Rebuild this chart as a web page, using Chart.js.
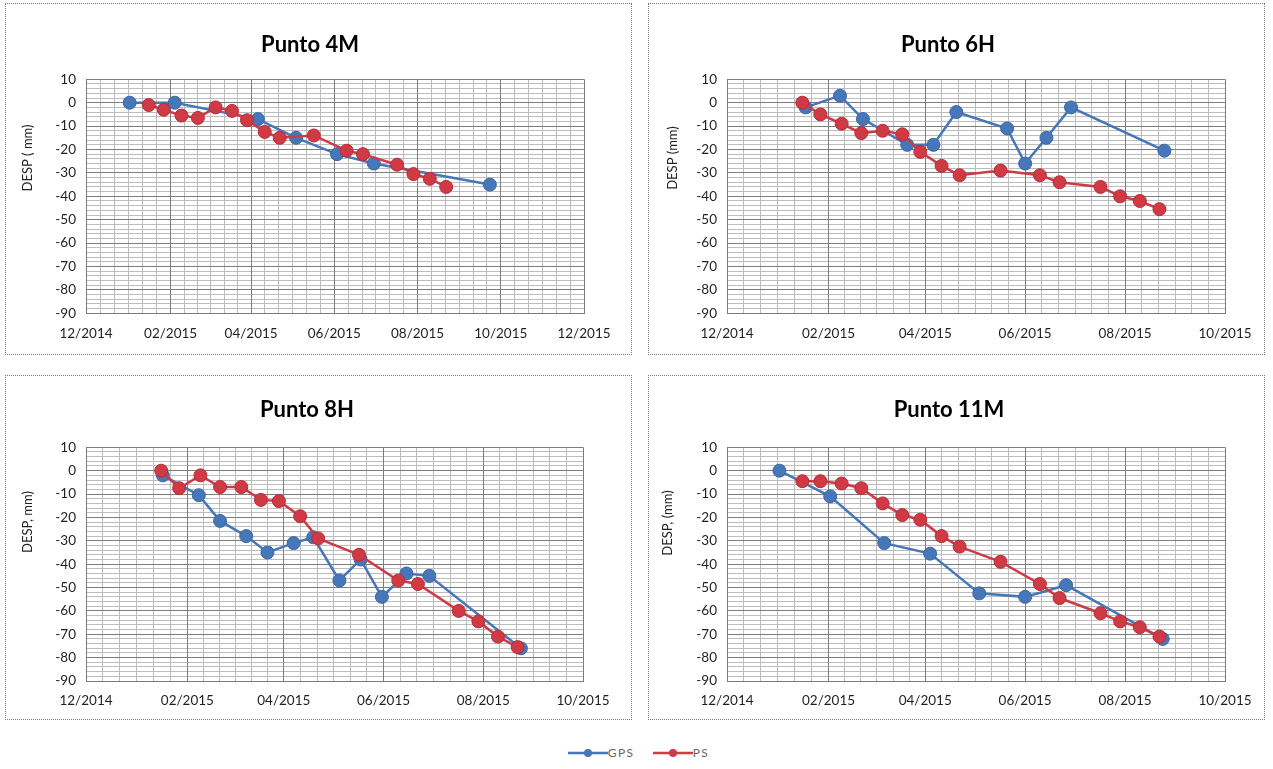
<!DOCTYPE html>
<html>
<head>
<meta charset="utf-8">
<script src="https://cdn.jsdelivr.net/npm/chart.js@4.4.1/dist/chart.umd.min.js"></script>
<style>
  body { margin: 0; background: #fff; width: 1273px; height: 769px; position: relative; overflow: hidden; font-family: Lato, "Open Sans", sans-serif; }
  canvas { position: absolute; }
  .marco { position: absolute; border: 1px dotted #7a7a7a; box-sizing: border-box; pointer-events: none; }
  #leyenda { position: absolute; left: 0; top: 745px; width: 1273px; display: flex; justify-content: center; padding-left: 2px; }
  #leyenda span { display: inline-flex; align-items: center; font-size: 12px; letter-spacing: 1.5px; color: #666; margin: 0 9px; }
</style>
</head>
<body>
<div id="leyenda"></div>
<script>
// Etiquetas del eje X (mes/año)
const ticksX4M = ['12/2014', '02/2015', '04/2015', '06/2015', '08/2015', '10/2015', '12/2015'];
const ticksX = ['12/2014', '02/2015', '04/2015', '06/2015', '08/2015', '10/2015'];

// Fechas de las imágenes PS (comunes a los 4 puntos)
const fechasPS = ['2015-01-16', '2015-01-27', '2015-02-09', '2015-02-21', '2015-03-06', '2015-03-18',
  '2015-03-29', '2015-04-11', '2015-04-22', '2015-05-17', '2015-06-10', '2015-06-22',
  '2015-07-17', '2015-07-29', '2015-08-10', '2015-08-22'];

// Punto 4M
const fechasGPS4M = ['2015-01-02', '2015-02-04', '2015-04-06', '2015-05-04', '2015-06-03', '2015-06-30', '2015-09-23'];
const gps4M = [0, 0, -7, -15, -22, -26, -35];
const ps4M = [-1, -3, -5.5, -6.5, -2, -3.5, -7.5, -12.5, -15, -14, -20.5, -22, -26.5, -30.5, -32.5, -36];

// Punto 6H
const fechasGPS6H = ['2015-01-18', '2015-02-08', '2015-02-22', '2015-03-21', '2015-04-06', '2015-04-20',
  '2015-05-21', '2015-06-01', '2015-06-14', '2015-06-29', '2015-08-25'];
const gps6H = [-2, 3, -7, -18, -18, -4, -11, -26, -15, -2, -20.5];
const ps6H = [0, -5, -9, -13, -12, -13.5, -21, -27, -31, -29, -31, -34, -36, -40, -42, -45.5];

// Punto 8H
const fechasGPS8H = ['2015-01-17', '2015-02-08', '2015-02-21', '2015-03-09', '2015-03-22', '2015-04-07',
  '2015-04-19', '2015-05-05', '2015-05-18', '2015-05-31', '2015-06-15', '2015-06-29', '2015-08-24'];
const gps8H = [-2, -10.5, -21.5, -28, -35, -31, -28.5, -47, -38, -54, -44, -45, -76];
const ps8H = [0, -7.5, -2, -7, -7, -12.5, -13, -19.5, -29, -36, -47, -48.5, -60, -64.5, -71, -75.5];

// Punto 11M
const fechasGPS11M = ['2015-01-02', '2015-02-02', '2015-03-07', '2015-04-04', '2015-05-04', '2015-06-01', '2015-06-26', '2015-08-24'];
const gps11M = [0, -11, -31, -35.5, -52.5, -54, -49, -72];
const ps11M = [-4.5, -4.5, -5.5, -7.5, -14, -19, -21, -28, -32.5, -39, -48.5, -54.5, -61, -64.5, -67, -71];

const series = ['GPS', 'PS'];
const colores = ['#4677b8', '#cf3a44'];

const paneles = [
  { id: 'g4M', titulo: 'Punto 4M', ejeY: 'DESP ( mm)', ticks: ticksX4M, fechasGPS: fechasGPS4M, gps: gps4M, ps: ps4M,
    caja: [5, 3, 627, 352], margen: { izq: 81, arr: 76.3, der: 48, aba: 41.7 }, posTitulo: [305, 42], posEje: [23, 155] },
  { id: 'g6H', titulo: 'Punto 6H', ejeY: 'DESP (mm)', ticks: ticksX, fechasGPS: fechasGPS6H, gps: gps6H, ps: ps6H,
    caja: [648, 3, 617, 352], margen: { izq: 79, arr: 76.3, der: 40, aba: 41.7 }, posTitulo: [300, 42], posEje: [25, 155] },
  { id: 'g8H', titulo: 'Punto 8H', ejeY: 'DESP, mm)', ticks: ticksX, fechasGPS: fechasGPS8H, gps: gps8H, ps: ps8H,
    caja: [5, 375, 627, 345], margen: { izq: 81, arr: 72.3, der: 49, aba: 39 }, posTitulo: [302, 35], posEje: [23, 147] },
  { id: 'g11M', titulo: 'Punto 11M', ejeY: 'DESP, (mm)', ticks: ticksX, fechasGPS: fechasGPS11M, gps: gps11M, ps: ps11M,
    caja: [648, 375, 617, 345], margen: { izq: 79, arr: 72.3, der: 40, aba: 39 }, posTitulo: [301, 35], posEje: [20, 148] }
];

// '12/2014' -> milisegundos UTC del día 1 de ese mes
function mesAFecha(etiqueta) {
  const [m, a] = etiqueta.split('/').map(Number);
  return Date.UTC(a, m - 1, 1);
}

// Títulos del gráfico y del eje Y
const textosPanel = {
  id: 'textosPanel',
  afterDraw(chart, args, opts) {
    const c = chart.ctx;
    c.save();
    c.fillStyle = '#000';
    c.textAlign = 'center';
    c.textBaseline = 'middle';
    c.font = 'bold 22px Lato';
    c.fillText(opts.titulo, opts.posTitulo[0], opts.posTitulo[1]);
    c.translate(opts.posEje[0], opts.posEje[1]);
    c.rotate(-Math.PI / 2);
    c.font = '13px Lato';
    c.fillStyle = '#222';
    c.fillText(opts.ejeY, 0, 0);
    c.restore();
  }
};

paneles.forEach(p => {
  const [x0, y0, w, h] = p.caja;
  const cv = document.createElement('canvas');
  cv.id = p.id;
  cv.width = w; cv.height = h;
  cv.style.left = x0 + 'px'; cv.style.top = y0 + 'px';
  document.body.appendChild(cv);
  const marco = document.createElement('div');
  marco.className = 'marco';
  Object.assign(marco.style, { left: x0 + 'px', top: y0 + 'px', width: w + 'px', height: h + 'px' });
  document.body.appendChild(marco);

  const mayores = p.ticks.map(mesAFecha);
  const menores = [];
  for (let i = 0; i < mayores.length - 1; i++) {
    for (let k = 1; k < 6; k++) menores.push(mayores[i] + (mayores[i + 1] - mayores[i]) * k / 6);
  }
  const fuente = { family: 'Lato', size: 13.5 };

  new Chart(cv.getContext('2d'), {
    type: 'line',
    data: {
      datasets: [{
        label: series[0],
        data: p.fechasGPS.map((f, i) => ({ x: Date.parse(f), y: p.gps[i] })),
        borderColor: colores[0], backgroundColor: colores[0],
        borderWidth: 2.5, pointRadius: 6.5, pointBorderWidth: 1, pointBorderColor: '#3c67a3',
        order: 1
      }, {
        label: series[1],
        data: fechasPS.map((f, i) => ({ x: Date.parse(f), y: p.ps[i] })),
        borderColor: colores[1], backgroundColor: colores[1],
        borderWidth: 2.5, pointRadius: 6.5, pointBorderWidth: 1, pointBorderColor: '#b52f39',
        order: 0
      }]
    },
    options: {
      responsive: false,
      animation: false,
      layout: { padding: { left: 0, top: p.margen.arr, right: p.margen.der, bottom: 0 } },
      plugins: {
        legend: { display: false },
        tooltip: { enabled: false },
        textosPanel: { titulo: p.titulo, ejeY: p.ejeY, posTitulo: p.posTitulo, posEje: p.posEje }
      },
      scales: {
        x: {
          type: 'linear', position: 'bottom',
          min: mayores[0], max: mayores[mayores.length - 1],
          afterBuildTicks: ax => { ax.ticks = mayores.map(v => ({ value: v })); },
          afterFit: ax => { ax.height = p.margen.aba; },
          ticks: { callback: v => p.ticks[mayores.indexOf(v)], autoSkip: false, maxRotation: 0, padding: 12, font: fuente, color: '#1f1f1f' },
          grid: { color: '#7d7d7d', drawTicks: false },
          border: { color: '#7d7d7d' }
        },
        xMenor: {
          type: 'linear', position: 'bottom',
          min: mayores[0], max: mayores[mayores.length - 1],
          afterBuildTicks: ax => { ax.ticks = menores.map(v => ({ value: v })); },
          afterFit: ax => { ax.height = 0; },
          ticks: { display: false },
          grid: { color: '#bdbdbd', drawTicks: false, z: -2 },
          border: { display: false }
        },
        y: {
          type: 'linear', position: 'left', min: -90, max: 10,
          afterFit: ax => { ax.width = p.margen.izq; },
          ticks: { stepSize: 10, padding: 10, font: fuente, color: '#1f1f1f' },
          grid: { color: '#7d7d7d', drawTicks: false },
          border: { color: '#7d7d7d' }
        },
        yMenor: {
          type: 'linear', position: 'left', min: -90, max: 10,
          afterFit: ax => { ax.width = 0; },
          ticks: { display: false, stepSize: 2 },
          grid: { color: '#bdbdbd', drawTicks: false, z: -2 },
          border: { display: false }
        }
      }
    },
    plugins: [textosPanel]
  });
});

// Leyenda común
const leyenda = document.getElementById('leyenda');
series.forEach((s, i) => {
  const item = document.createElement('span');
  item.innerHTML = '<svg width="40" height="12"><line x1="0" y1="6" x2="40" y2="6" stroke="' + colores[i] +
    '" stroke-width="2.5"/><circle cx="20" cy="6" r="4" fill="' + colores[i] + '"/></svg>';
  item.appendChild(document.createTextNode(s));
  leyenda.appendChild(item);
});
</script>
</body>
</html>
